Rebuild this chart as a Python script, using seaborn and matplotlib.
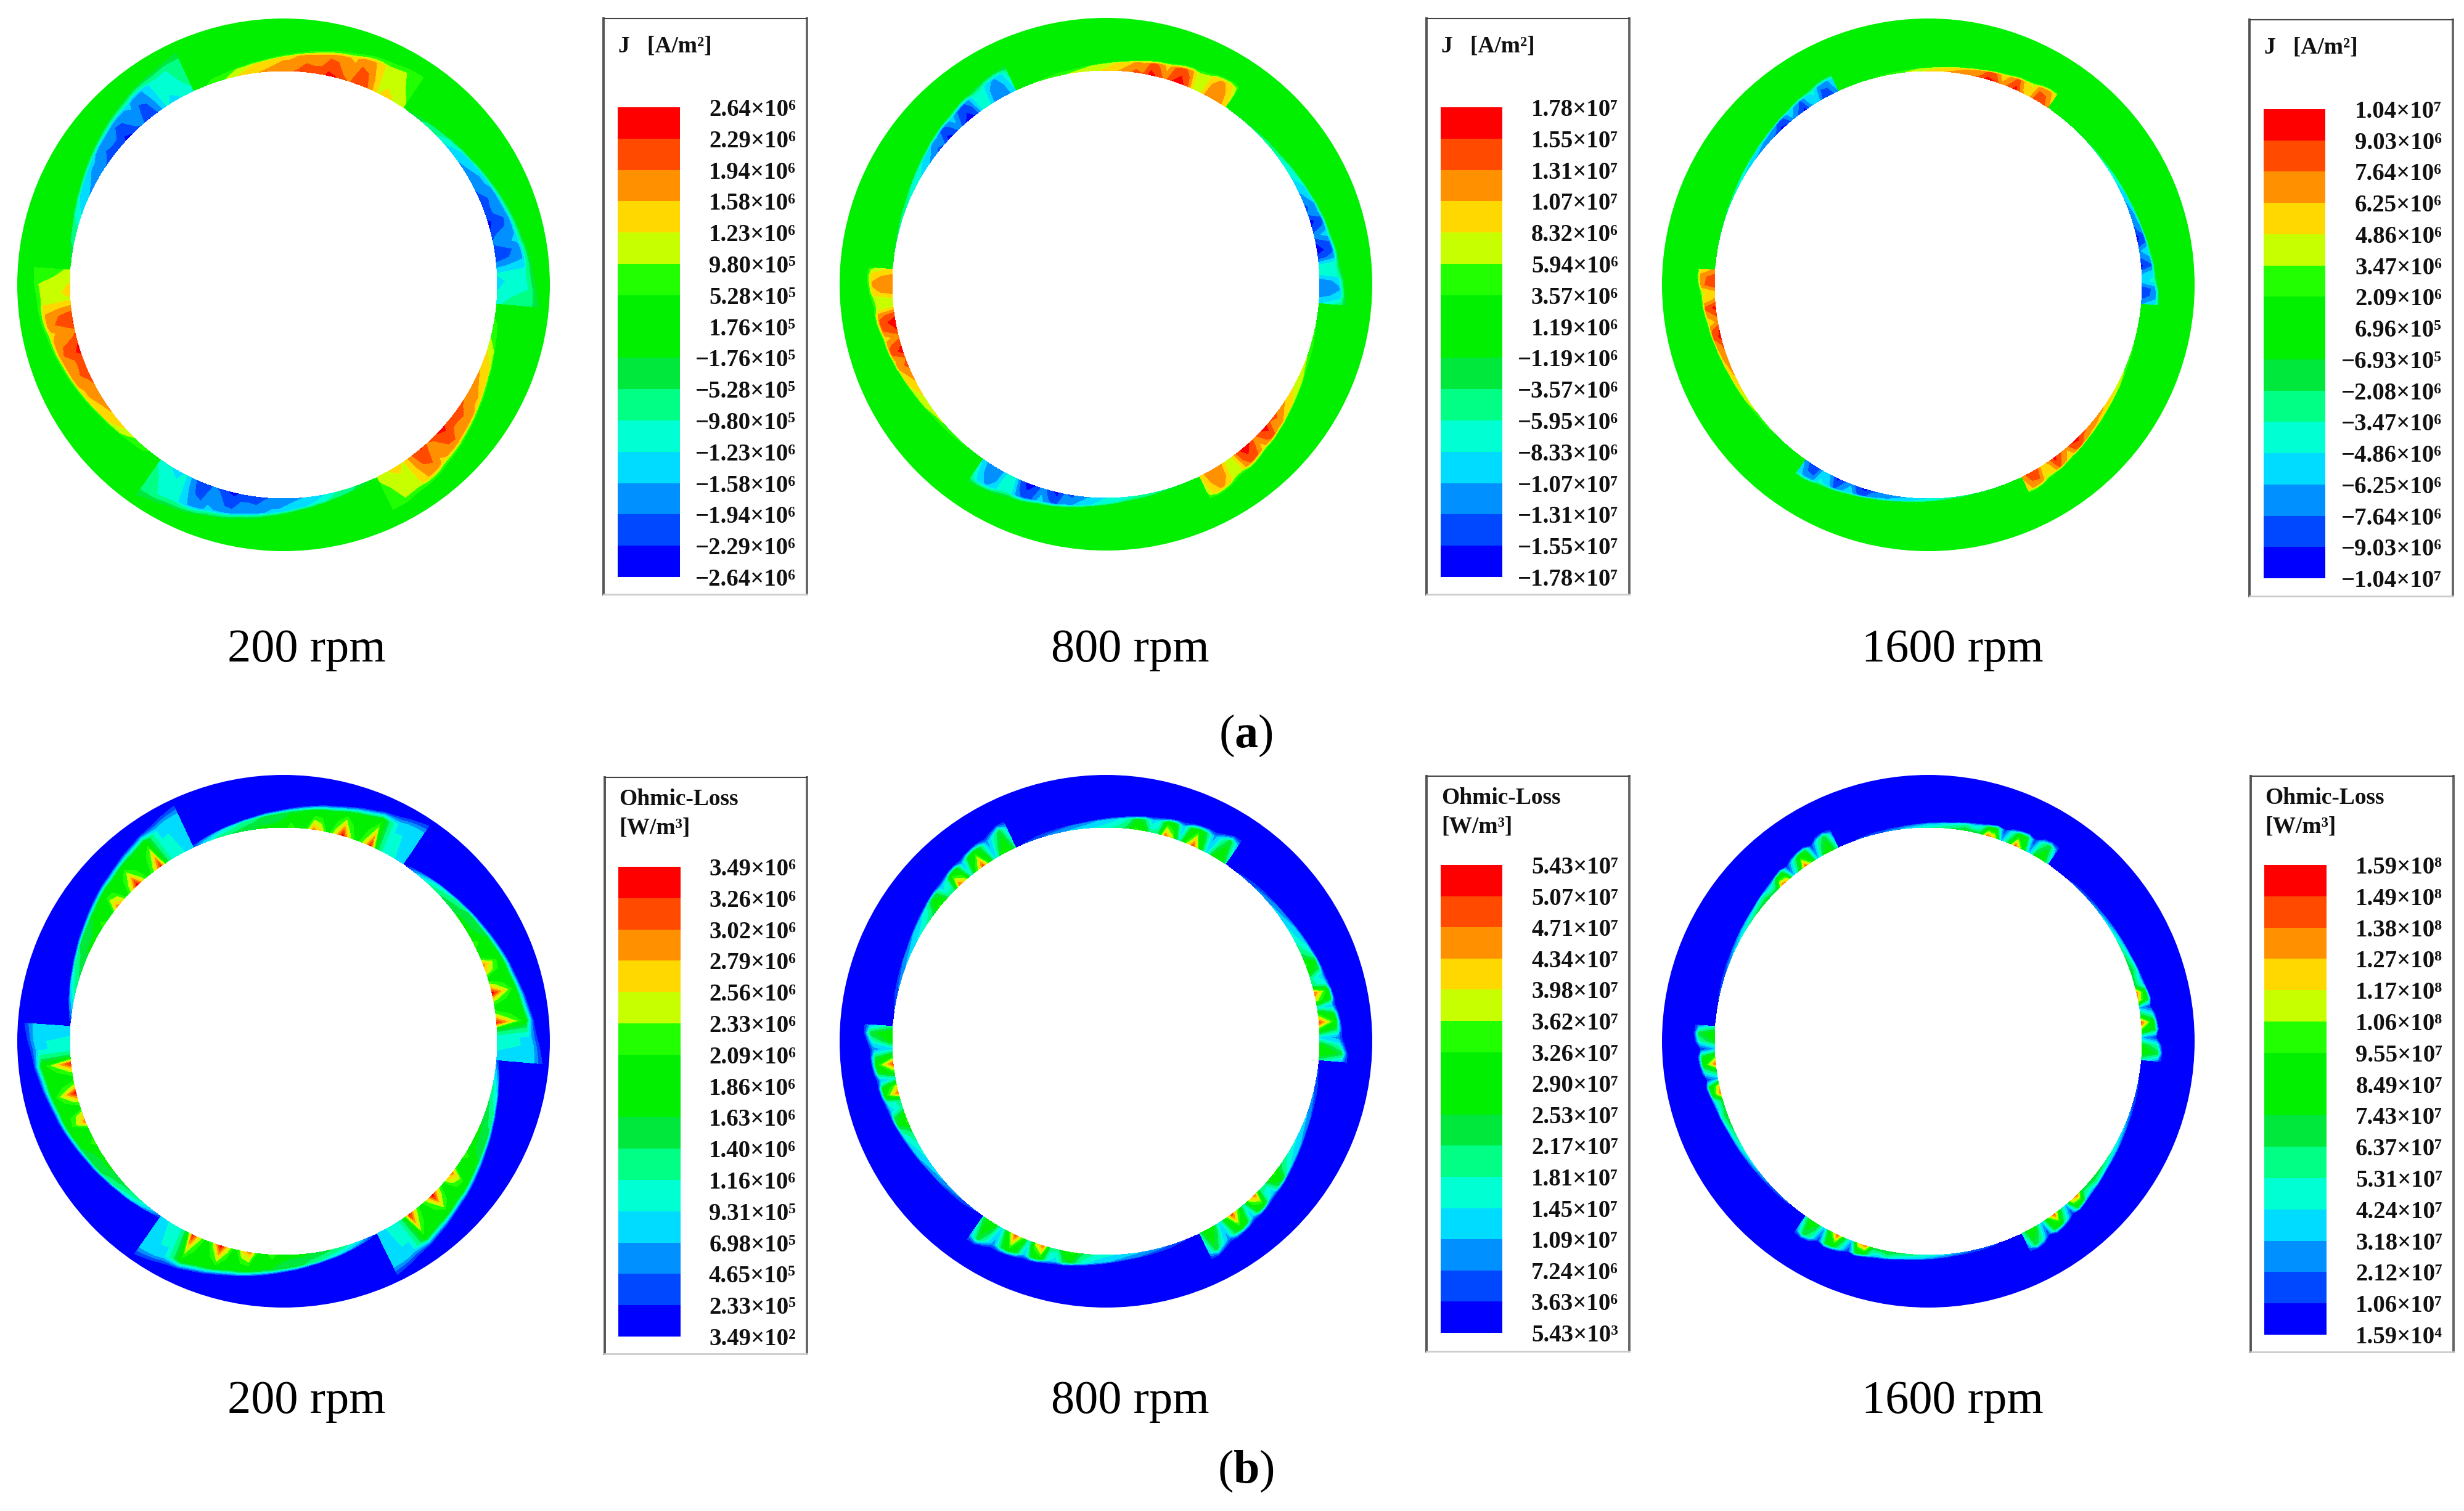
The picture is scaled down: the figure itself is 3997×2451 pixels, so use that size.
import numpy as np
import matplotlib
matplotlib.use("Agg")
import matplotlib.pyplot as plt
from matplotlib.colors import ListedColormap
from matplotlib.patches import Wedge
import seaborn as sns

# legend values, top to bottom
j200_levels = [2.64e6, 2.29e6, 1.94e6, 1.58e6, 1.23e6, 9.80e5, 5.28e5, 1.76e5,
               -1.76e5, -5.28e5, -9.80e5, -1.23e6, -1.58e6, -1.94e6, -2.29e6, -2.64e6]
j800_levels = [1.78e7, 1.55e7, 1.31e7, 1.07e7, 8.32e6, 5.94e6, 3.57e6, 1.19e6,
               -1.19e6, -3.57e6, -5.95e6, -8.33e6, -1.07e7, -1.31e7, -1.55e7, -1.78e7]
j1600_levels = [1.04e7, 9.03e6, 7.64e6, 6.25e6, 4.86e6, 3.47e6, 2.09e6, 6.96e5,
                -6.93e5, -2.08e6, -3.47e6, -4.86e6, -6.25e6, -7.64e6, -9.03e6, -1.04e7]
loss200_levels = [3.49e6, 3.26e6, 3.02e6, 2.79e6, 2.56e6, 2.33e6, 2.09e6, 1.86e6,
                  1.63e6, 1.40e6, 1.16e6, 9.31e5, 6.98e5, 4.65e5, 2.33e5, 3.49e2]
loss800_levels = [5.43e7, 5.07e7, 4.71e7, 4.34e7, 3.98e7, 3.62e7, 3.26e7, 2.90e7,
                  2.53e7, 2.17e7, 1.81e7, 1.45e7, 1.09e7, 7.24e6, 3.63e6, 5.43e3]
loss1600_levels = [1.59e8, 1.49e8, 1.38e8, 1.27e8, 1.17e8, 1.06e8, 9.55e7, 8.49e7,
                   7.43e7, 6.37e7, 5.31e7, 4.24e7, 3.18e7, 2.12e7, 1.06e7, 1.59e4]

band_colors = ["#ff0000", "#ff4a00", "#ff9000", "#ffd800", "#c8ff00", "#22ff00", "#00f000", "#00f000",
               "#00e83c", "#00ff84", "#00ffd2", "#00dcff", "#0090ff", "#0048ff", "#0000ff"]

# sampled along one winding sector, every 2 degrees from thick end to thin end
j200_depth = [.88, .82, .78, .74, .72, .69, .66, .63, .60, .57, .54, .51, .48, .45, .42, .39,
              .36, .33, .30, .27, .24, .22, .19, .17, .14, .12, .10, .08, .06, .03, .01]
j200_inner = [1.05, 1.15, 1.25, 1.30, 1.20, 1.70, 2.20, 2.30, 1.90, 2.00, 2.30, 2.40, 2.10, 2.10, 2.20, 2.00,
              1.90, 1.90, 1.80, 1.70, 1.60, 1.50, 1.40, 1.25, 1.10, 0.95, 0.80, 0.60, 0.45, 0.30, 0.10]
j200_mid = [0.60, 0.80, 1.00, 1.05, 1.05, 1.40, 1.70, 1.80, 1.50, 1.60, 1.80, 1.85, 1.70, 1.70, 1.70, 1.60,
            1.50, 1.50, 1.40, 1.30, 1.25, 1.20, 1.10, 1.00, 0.90, 0.80, 0.65, 0.50, 0.35, 0.20, 0.05]

j800_depth = [.55, .52, .50, .48, .46, .42, .40, .38, .35, .33, .31, .29, .27, .25, .22, .20,
              .18, .16, .14, .12, .10, .08, .07, .06, .05, .04, .03, .02, .02, .01, .01]
j800_inner = [0.90, 1.15, 1.30, 1.20, 0.75, 0.80, 1.45, 1.70, 1.55, 1.20, 1.50, 1.65, 1.30, 1.40, 1.20, 1.10,
              1.00, 0.90, 0.80, 0.75, 0.70, 0.65, 0.60, 0.55, 0.50, 0.45, 0.40, 0.35, 0.30, 0.20, 0.10]
j800_mid = [0.50, 1.00, 1.10, 1.00, 0.60, 0.65, 1.20, 1.40, 1.30, 0.95, 1.25, 1.40, 1.05, 1.10, 1.00, 0.90,
            0.80, 0.70, 0.65, 0.60, 0.55, 0.50, 0.45, 0.40, 0.35, 0.30, 0.25, 0.20, 0.15, 0.10, 0.05]

j1600_depth = [.36, .35, .33, .30, .28, .26, .24, .22, .20, .18, .16, .15, .13, .12, .10, .09,
               .08, .07, .06, .05, .04, .03, .03, .02, .02, .02, .01, .01, .01, .01, .01]
j1600_inner = [6.5, 8.5, 8.8, 5.5, 6.5, 9.5, 8.0, 6.5, 9.0, 9.5, 8.0, 7.5, 7.5, 7.0, 6.5, 6.0,
               5.5, 5.0, 4.5, 4.0, 3.5, 3.0, 2.7, 2.4, 2.1, 1.8, 1.5, 1.2, 1.0, 0.7, 0.3]
j1600_mid = [5.0, 7.0, 7.2, 4.5, 5.2, 8.0, 6.5, 5.2, 7.5, 8.0, 6.5, 6.0, 6.0, 5.5, 5.2, 4.8,
             4.4, 4.0, 3.5, 3.2, 2.8, 2.4, 2.1, 1.9, 1.7, 1.4, 1.2, 1.0, 0.8, 0.5, 0.2]

loss200_depth = [.95, .90, .85, .80, .75, .72, .68, .65, .62, .58, .55, .52, .50, .47, .44, .41,
                 .38, .35, .32, .30, .27, .24, .22, .19, .17, .15, .12, .10, .07, .05, .02]
loss200_inner = [0.80, 0.90, 1.00, 1.00, 1.50, 3.30, 2.40, 1.90, 2.40, 3.40, 2.50, 1.90, 2.60, 2.90, 2.00, 1.90,
                 2.30, 1.80, 1.70, 1.70, 1.70, 1.60, 1.60, 1.50, 1.40, 1.30, 1.20, 1.00, 0.80, 0.50, 0.20]
loss200_mid = [0.70, 0.80, 0.90, 0.90, 1.30, 1.90, 1.80, 1.70, 1.80, 1.90, 1.80, 1.70, 1.80, 1.80, 1.70, 1.60,
               1.60, 1.50, 1.50, 1.40, 1.40, 1.30, 1.20, 1.10, 1.00, 0.90, 0.80, 0.60, 0.50, 0.30, 0.10]

loss800_depth = [.58, .55, .50, .46, .44, .42, .40, .38, .36, .34, .32, .30, .28, .26, .24, .22,
                 .20, .18, .16, .14, .12, .11, .10, .09, .08, .07, .06, .05, .04, .02, .01]
loss800_inner = [2.0, 3.0, 2.7, 1.3, 3.0, 4.9, 3.4, 1.6, 3.8, 4.7, 2.0, 1.9, 3.0, 3.4, 2.4, 2.0,
                 1.8, 1.6, 1.5, 1.4, 1.3, 1.2, 1.1, 1.0, 0.9, 0.8, 0.6, 0.5, 0.4, 0.3, 0.1]
loss800_mid = [1.0, 2.4, 1.6, 0.9, 2.2, 3.0, 2.4, 1.0, 2.6, 3.0, 1.5, 1.2, 2.2, 2.5, 1.8, 1.5,
               1.3, 1.2, 1.1, 1.0, 0.9, 0.8, 0.7, 0.6, 0.5, 0.5, 0.4, 0.3, 0.2, 0.1, 0.1]

loss1600_depth = [.42, .40, .38, .35, .33, .31, .29, .27, .25, .22, .20, .18, .16, .14, .12, .11,
                  .10, .09, .08, .07, .06, .05, .05, .04, .04, .03, .03, .02, .02, .01, .01]
loss1600_inner = [.50, .85, .75, .30, .95, 1.40, .70, .30, 1.20, 1.35, .70, .70, .75, .70, .65, .60,
                  .55, .50, .45, .40, .35, .30, .25, .20, .20, .15, .15, .10, .10, .05, .05]
loss1600_mid = [.20, .70, .50, .10, .70, .80, .45, .10, .70, .75, .40, .35, .50, .45, .40, .35,
                .30, .30, .25, .20, .20, .15, .15, .10, .10, .10, .05, .05, .05, .05, .05]

rpm_labels = ["200 rpm", "800 rpm", "1600 rpm"]
sector_starts = [56, 115, 176, 235, 296, 355]
sector_offsets = np.arange(0, 61, 2)
depth_rows = [0, 0.75, 1]

W, H = 3997, 2451
R_OUT, R_IN = 432, 347
NUM_SIZE = 28
TITLE_SIZE = 27
RPM_SIZE = 55

sns.set_theme(style="white")
plt.rcParams["font.family"] = ["Liberation Serif", "DejaVu Serif"]
plt.rcParams["mathtext.fontset"] = "custom"
plt.rcParams["mathtext.rm"] = "Liberation Serif"
plt.rcParams["mathtext.bf"] = "Liberation Serif:bold"

fig = plt.figure(figsize=(W / 100, H / 100), dpi=100, facecolor="white")


def px_axes(x0, y0, x1, y1, **kw):
    return fig.add_axes([x0 / W, 1 - y1 / H, (x1 - x0) / W, (y1 - y0) / H], **kw)


def px_text(x, y, s, **kw):
    fig.text(x / W, 1 - y / H, s, **kw)


def level_label(v):
    mant, exp = f"{abs(v):.2e}".split("e")
    sup = str(int(exp)).translate(str.maketrans("0123456789", "⁰¹²³⁴⁵⁶⁷⁸⁹"))
    return ("−" if v < 0 else "") + mant + "×10" + sup


def draw_ring(cx, cy, levels, unit, depth, inner, mid, signed):
    ax = px_axes(cx - R_OUT - 4, cy - R_OUT - 4, cx + R_OUT + 4, cy + R_OUT + 4)
    ax.set_xlim(-R_OUT - 4, R_OUT + 4)
    ax.set_ylim(-R_OUT - 4, R_OUT + 4)
    ax.axis("off")
    base = band_colors[7] if signed else band_colors[14]
    ax.add_patch(Wedge((0, 0), R_OUT, 0, 360, width=R_OUT - R_IN, facecolor=base, edgecolor="none"))
    edge_val = 0 if signed else levels[-1] * 2
    for i, start in enumerate(sector_starts):
        sign = (1 if i % 2 == 0 else -1) if signed else 1
        theta = np.deg2rad(start + sector_offsets)
        radius = R_IN + (R_OUT - R_IN) * np.outer(depth_rows, depth)
        z = np.vstack([np.array(inner) * unit, np.array(mid) * unit,
                       np.full(len(inner), edge_val)]) * sign
        ax.contourf(radius * np.cos(theta), radius * np.sin(theta), z,
                    levels=levels[::-1], colors=band_colors[::-1])


def draw_legend(box, swatch, levels, title):
    ax = px_axes(*box)
    ax.set_xticks([])
    ax.set_yticks([])
    ax.spines["left"].set(color="#555555", linewidth=2.8)
    ax.spines["right"].set(color="#666666", linewidth=2.8)
    ax.spines["top"].set(color="#444444", linewidth=1.5)
    ax.spines["bottom"].set(color="#cccccc", linewidth=2)
    ax_s = px_axes(*swatch)
    sns.heatmap(np.arange(15).reshape(-1, 1), cmap=ListedColormap(band_colors), cbar=False,
                ax=ax_s, xticklabels=False, yticklabels=False)
    ax_s.yaxis.tick_right()
    ax_s.set_yticks(np.arange(16))
    ax_s.set_yticklabels([level_label(v) for v in levels], fontsize=NUM_SIZE, fontweight="bold",
                         color="#111111", ha="right", rotation=0)
    ax_s.tick_params(axis="y", length=0, pad=(box[2] - 18 - swatch[2]) * 0.72)
    for j, line in enumerate(title):
        px_text(swatch[0] + 1, box[1] + title_y[len(title) - 1][j], line, fontsize=TITLE_SIZE,
                fontweight="bold", va="center", ha="left", color="#111111")


title_y = {0: [45], 1: [35, 82]}

centers_x = [460, 1794, 3128]
top_y = [462, 461, 462]
rpm_x = [497, 1833, 3167]

top_fields = [(j200_levels, 1e6, j200_depth, j200_inner, j200_mid),
              (j800_levels, 1e7, j800_depth, j800_inner, j800_mid),
              (j1600_levels, 1e6, j1600_depth, j1600_inner, j1600_mid)]
bottom_fields = [(loss200_levels, 1e6, loss200_depth, loss200_inner, loss200_mid),
                 (loss800_levels, 1e7, loss800_depth, loss800_inner, loss800_mid),
                 (loss1600_levels, 1e8, loss1600_depth, loss1600_inner, loss1600_mid)]

top_boxes = [(979, 30, 1309, 964), (2314, 30, 2643, 964), (3649, 32, 3979, 967)]
top_swatches = [(1002, 174, 1103, 936), (2337, 174, 2437, 936), (3672, 177, 3772, 938)]
bottom_boxes = [(981, 1261, 1309, 2196), (2314, 1259, 2643, 2192), (3651, 1259, 3980, 2193)]
bottom_swatches = [(1003, 1406, 1104, 2168), (2337, 1403, 2437, 2162), (3673, 1403, 3774, 2165)]

for k in range(3):
    levels, unit, depth, inner, mid = top_fields[k]
    draw_ring(centers_x[k], top_y[k], levels, unit, depth, inner, mid, True)
    draw_legend(top_boxes[k], top_swatches[k], levels, ["J   [A/m²]"])
    px_text(rpm_x[k], 1055, rpm_labels[k], fontsize=RPM_SIZE, ha="center", va="center", color="black")

    levels, unit, depth, inner, mid = bottom_fields[k]
    draw_ring(centers_x[k], 1689, levels, unit, depth, inner, mid, False)
    draw_legend(bottom_boxes[k], bottom_swatches[k], levels, ["Ohmic-Loss", "[W/m³]"])
    px_text(rpm_x[k], 2273, rpm_labels[k], fontsize=RPM_SIZE, ha="center", va="center", color="black")

px_text(2021, 1193, r"($\mathbf{a}$)", fontsize=RPM_SIZE, ha="center", va="center", color="black")
px_text(2021, 2386, r"($\mathbf{b}$)", fontsize=RPM_SIZE, ha="center", va="center", color="black")

fig.savefig("out.png", dpi=100, facecolor="white")
